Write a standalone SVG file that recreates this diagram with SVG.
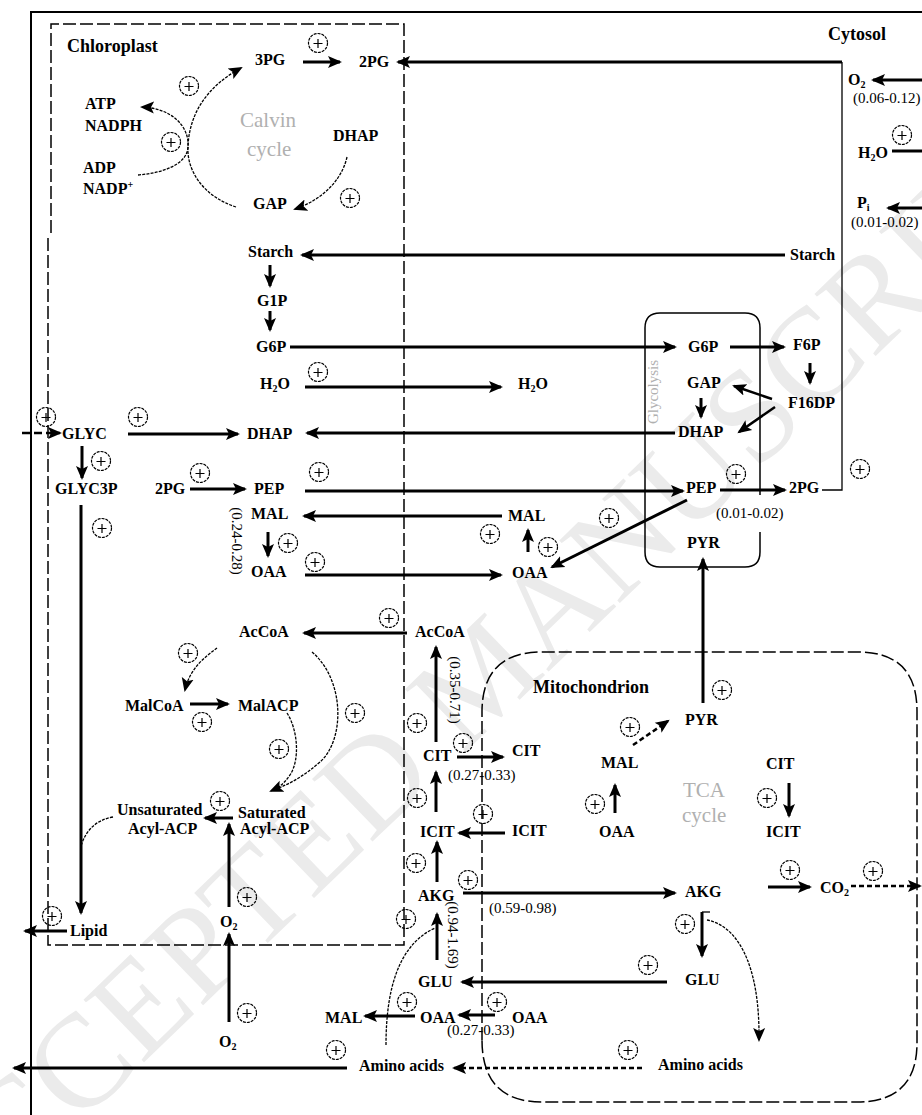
<svg xmlns="http://www.w3.org/2000/svg" xmlns:xlink="http://www.w3.org/1999/xlink" width="922" height="1115" viewBox="0 0 922 1115">
<defs>
<style>
text{font-family:"Liberation Serif","Times New Roman",serif;}
.t{font-weight:bold;font-size:16px;fill:#000}
.ttl{font-weight:bold;font-size:18px;fill:#000}
.n{font-size:15px;fill:#000}
.g{font-size:21px;fill:#b0b0b0}
.gs{font-size:15px;fill:#b0b0b0}
.wm{font-size:133px;fill:#ebebeb}
.k{stroke:#000;stroke-width:3;fill:none}
.k2{stroke:#000;stroke-width:2.5;fill:none}
.f{stroke:#000;stroke-width:1.3;fill:none}
.d{stroke-dasharray:8 4}
.ds{stroke-dasharray:5 3}
.dt{stroke-dasharray:3 1.2}
.bd{stroke:#000;stroke-width:1.5;fill:none;stroke-dasharray:13 4}
.ah{marker-end:url(#a)}
</style>
<marker id="a" markerUnits="userSpaceOnUse" markerWidth="16" markerHeight="14" refX="12" refY="7" orient="auto"><path d="M0,1 L14,7 L0,13 L3,7 z" fill="#000"/></marker>
<g id="p"><circle r="9.5" fill="none" stroke="#000" stroke-width="1.2" stroke-dasharray="3 1"/><path d="M-4.5,0.5H4.5M0,-4V5" stroke="#000" stroke-width="1.2"/></g>
</defs>
<rect width="922" height="1115" fill="#fff"/>
<text class="wm" transform="translate(512,707) rotate(-44)" text-anchor="middle">ACCEPTED MANUSCRIPT</text>

<g id="compartments">
<path d="M31,1115 V12 H922" fill="none" stroke="#000" stroke-width="2"/>
<path class="bd" d="M51,233 V24 H404 V945 H48 V236"/>
<path fill="none" stroke="#000" stroke-width="1.5" d="M760,495 V328 Q760,313 745,313 H660 Q645,313 645,328 V552 Q645,567 660,567 H745 Q760,567 760,552 V532"/>
<path class="bd" d="M482,1040 V712 Q482,652 542,652 H858 Q917,652 917,711 V1043 Q917,1102 857,1102 H542 Q482,1102 482,1040"/>
<text class="ttl" x="67" y="52">Chloroplast</text>
<text class="ttl" x="828" y="40">Cytosol</text>
<text class="ttl" x="533" y="693">Mitochondrion</text>
<text class="g" x="240" y="127">Calvin</text>
<text class="g" x="247" y="156">cycle</text>
<text class="g" x="683" y="797">TCA</text>
<text class="g" x="682" y="822">cycle</text>
<text class="gs" transform="translate(653,392) rotate(-90)" text-anchor="middle" y="5">Glycolysis</text>
</g>

<g id="connectors">
<path class="f" d="M822,490 H842 V62"/>
<path class="k ah" d="M842,62 H398"/>
<path class="k ah" d="M922,80 H873"/>
<path class="k" d="M892,151 H922"/>
<path class="k ah" d="M922,208 H888"/>
<path class="k ah" d="M785,255 H302"/>
<path class="k ah" d="M303,62 H340"/>
<path class="f dt ah" d="M236,207 C205,197 186,172 188,145 C190,112 208,86 241,68"/>
<path class="f dt ah" d="M138,175 C162,173 186,165 188,148 C190,125 170,108 142,107"/>
<path class="f dt ah" d="M347,157 C342,180 322,200 295,209"/>
<path class="k ah" d="M270,265 V286"/>
<path class="k ah" d="M270,311 V330"/>
<path class="k ah" d="M290,347 H675"/>
<path class="k ah" d="M305,387 H501"/>
<path class="k2 d ah" d="M22,433 H60"/>
<path class="k ah" d="M128,434 H238"/>
<path class="k ah" d="M675,433 H307"/>
<path class="k ah" d="M82,446 V478"/>
<path class="k ah" d="M81,505 V913"/>
<path class="f dt" d="M113,817 C96,820 86,830 81,846"/>
<path class="k ah" d="M67,931 H25"/>
<path class="k ah" d="M190,489 H245"/>
<path class="k ah" d="M305,491 H683"/>
<path class="k ah" d="M502,516 H304"/>
<path class="k ah" d="M268,532 V556"/>
<path class="k ah" d="M305,575 H501"/>
<path class="k ah" d="M528,552 V530"/>
<path class="k ah" d="M687,500 L552,567"/>
<path class="k ah" d="M407,633 H304"/>
<path class="k ah" d="M436,742 V647"/>
<path class="k ah" d="M457,757 H503"/>
<path class="k ah" d="M436,812 V772"/>
<path class="k ah" d="M505,833 H459"/>
<path class="k ah" d="M437,882 V842"/>
<path class="k ah" d="M463,893 H675"/>
<path class="k ah" d="M437,960 V914"/>
<path class="k ah" d="M667,982 H462"/>
<path class="k ah" d="M415,1016 H365"/>
<path class="k ah" d="M495,1015 H459"/>
<path class="k ah" d="M347,1068 H14"/>
<path class="k2 ds ah" d="M642,1068 H454"/>
<path class="f dt" d="M386,1045 C386,990 398,945 435,928"/>
<path class="k ah" d="M229,907 V824"/>
<path class="k ah" d="M229,1022 V934"/>
<path class="k ah" d="M233,818 H205"/>
<path class="f dt ah" d="M217,648 C205,657 190,668 185,690"/>
<path class="k ah" d="M190,704 H228"/>
<path class="f dt ah" d="M287,713 C298,730 300,760 290,775 C283,785 278,788 271,791"/>
<path class="f dt" d="M312,652 C345,680 345,740 320,762 C305,775 292,783 274,790"/>
<path class="k ah" d="M730,347 H784"/>
<path class="k ah" d="M810,363 V383"/>
<path class="k2 ah" d="M772,399 L734,386"/>
<path class="k2 ah" d="M775,407 L739,432"/>
<path class="k ah" d="M701,398 V417"/>
<path class="k ah" d="M720,490 H785"/>
<path class="k ah" d="M703,703 V559"/>
<path class="k2 ds ah" d="M633,745 L668,721"/>
<path class="k ah" d="M615,813 V785"/>
<path class="k ah" d="M789,783 V816"/>
<path class="k ah" d="M768,887 H810"/>
<path class="k2 ds ah" d="M851,886 H920"/>
<path class="k ah" d="M702,912 V956"/>
<path class="f" d="M702,912 H710"/>
<path class="f dt ah" d="M707,920 C735,925 760,960 759,1040"/>
</g>

<g id="regulation">
<use href="#p" x="318" y="43"/><use href="#p" x="189" y="86"/><use href="#p" x="171" y="142"/><use href="#p" x="350" y="198"/>
<use href="#p" x="902" y="135"/><use href="#p" x="318" y="372"/><use href="#p" x="46" y="417"/><use href="#p" x="138" y="417"/>
<use href="#p" x="101" y="461"/><use href="#p" x="200" y="473"/><use href="#p" x="102" y="528"/><use href="#p" x="319" y="472"/>
<use href="#p" x="288" y="543"/><use href="#p" x="315" y="562"/><use href="#p" x="490" y="534"/><use href="#p" x="548" y="547"/>
<use href="#p" x="609" y="518"/><use href="#p" x="736" y="474"/><use href="#p" x="860" y="469"/><use href="#p" x="188" y="653"/>
<use href="#p" x="202" y="722"/><use href="#p" x="279" y="749"/><use href="#p" x="355" y="713"/><use href="#p" x="220" y="801"/>
<use href="#p" x="389" y="618"/><use href="#p" x="417" y="723"/><use href="#p" x="463" y="743"/><use href="#p" x="417" y="798"/>
<use href="#p" x="483" y="814"/><use href="#p" x="416" y="863"/><use href="#p" x="468" y="880"/><use href="#p" x="406" y="919"/>
<use href="#p" x="52" y="916"/><use href="#p" x="247" y="897"/><use href="#p" x="247" y="1013"/><use href="#p" x="407" y="1002"/>
<use href="#p" x="497" y="1002"/><use href="#p" x="336" y="1050"/><use href="#p" x="628" y="1050"/><use href="#p" x="648" y="965"/>
<use href="#p" x="685" y="924"/><use href="#p" x="790" y="870"/><use href="#p" x="873" y="871"/><use href="#p" x="722" y="690"/>
<use href="#p" x="630" y="727"/><use href="#p" x="595" y="804"/><use href="#p" x="767" y="798"/>
</g>

<g id="chl-3pg"><text class="t" x="255" y="65">3PG</text></g>
<g id="chl-2pg"><text class="t" x="359" y="67">2PG</text></g>
<g id="chl-atp"><text class="t" x="85" y="109">ATP</text><text class="t" x="85" y="131">NADPH</text></g>
<g id="chl-adp"><text class="t" x="83" y="173">ADP</text><text class="t" x="83" y="194">NADP<tspan font-size="10" dy="-6">+</tspan></text></g>
<g id="chl-dhap1"><text class="t" x="333" y="141">DHAP</text></g>
<g id="chl-gap"><text class="t" x="253" y="209">GAP</text></g>
<g id="chl-starch"><text class="t" x="248" y="257">Starch</text></g>
<g id="chl-g1p"><text class="t" x="257" y="306">G1P</text></g>
<g id="chl-g6p"><text class="t" x="256" y="352">G6P</text></g>
<g id="chl-h2o"><text class="t" x="260" y="389">H<tspan font-size="10" dy="3">2</tspan><tspan dy="-3">O</tspan></text></g>
<g id="cyt-h2o"><text class="t" x="518" y="389">H<tspan font-size="10" dy="3">2</tspan><tspan dy="-3">O</tspan></text></g>
<g id="chl-glyc"><text class="t" x="62" y="439">GLYC</text></g>
<g id="chl-dhap2"><text class="t" x="247" y="439">DHAP</text></g>
<g id="chl-glyc3p"><text class="t" x="55" y="494">GLYC3P</text></g>
<g id="chl-2pg2"><text class="t" x="155" y="494">2PG</text></g>
<g id="chl-pep"><text class="t" x="254" y="494">PEP</text></g>
<g id="chl-mal"><text class="t" x="251" y="519">MAL</text></g>
<g id="chl-oaa"><text class="t" x="251" y="577">OAA</text></g>
<g id="lbl-mal-oaa"><text class="n" transform="translate(237,541) rotate(90)" text-anchor="middle" y="5">(0.24-0.28)</text></g>
<g id="cyt-mal"><text class="t" x="508" y="521">MAL</text></g>
<g id="cyt-oaa"><text class="t" x="512" y="578">OAA</text></g>
<g id="chl-accoa"><text class="t" x="239" y="637">AcCoA</text></g>
<g id="cyt-accoa"><text class="t" x="415" y="637">AcCoA</text></g>
<g id="chl-malcoa"><text class="t" x="125" y="711">MalCoA</text></g>
<g id="chl-malacp"><text class="t" x="238" y="711">MalACP</text></g>
<g id="chl-unsat"><text class="t" x="117" y="815">Unsaturated</text><text class="t" x="128" y="834">Acyl-ACP</text></g>
<g id="chl-sat"><text class="t" x="238" y="818">Saturated</text><text class="t" x="240" y="834">Acyl-ACP</text></g>
<g id="chl-lipid"><text class="t" x="70" y="936">Lipid</text></g>
<g id="chl-o2"><text class="t" x="220" y="927">O<tspan font-size="10" dy="3">2</tspan></text></g>
<g id="cyt-o2"><text class="t" x="219" y="1047">O<tspan font-size="10" dy="3">2</tspan></text></g>
<g id="cyt-cit"><text class="t" x="423" y="761">CIT</text></g>
<g id="lbl-accoa"><text class="n" transform="translate(455,690) rotate(90)" text-anchor="middle" y="5">(0.35-0.71)</text></g>
<g id="mit-cit-edge"><text class="t" x="512" y="756">CIT</text></g>
<g id="lbl-cit"><text class="n" x="448" y="780">(0.27-0.33)</text></g>
<g id="cyt-icit"><text class="t" x="420" y="837">ICIT</text></g>
<g id="mit-icit-edge"><text class="t" x="512" y="836">ICIT</text></g>
<g id="cyt-akg"><text class="t" x="418" y="901">AKG</text></g>
<g id="lbl-akg"><text class="n" x="489" y="913">(0.59-0.98)</text></g>
<g id="lbl-glu"><text class="n" transform="translate(453,935) rotate(90)" text-anchor="middle" y="5">(0.94-1.69)</text></g>
<g id="cyt-glu"><text class="t" x="418" y="987">GLU</text></g>
<g id="cyt-mal2"><text class="t" x="325" y="1023">MAL</text></g>
<g id="cyt-oaa2"><text class="t" x="420" y="1023">OAA</text></g>
<g id="mit-oaa-edge"><text class="t" x="512" y="1023">OAA</text></g>
<g id="lbl-oaa"><text class="n" x="447" y="1035">(0.27-0.33)</text></g>
<g id="cyt-amino"><text class="t" x="359" y="1071">Amino acids</text></g>
<g id="mit-amino"><text class="t" x="658" y="1070">Amino acids</text></g>
<g id="gly-g6p"><text class="t" x="688" y="352">G6P</text></g>
<g id="gly-f6p"><text class="t" x="793" y="350">F6P</text></g>
<g id="gly-f16dp"><text class="t" x="788" y="408">F16DP</text></g>
<g id="gly-gap"><text class="t" x="687" y="388">GAP</text></g>
<g id="gly-dhap"><text class="t" x="678" y="437">DHAP</text></g>
<g id="gly-pep"><text class="t" x="686" y="493">PEP</text></g>
<g id="gly-2pg"><text class="t" x="789" y="493">2PG</text></g>
<g id="lbl-2pg"><text class="n" x="716" y="518">(0.01-0.02)</text></g>
<g id="gly-pyr"><text class="t" x="687" y="548">PYR</text></g>
<g id="mit-pyr"><text class="t" x="685" y="725">PYR</text></g>
<g id="mit-mal"><text class="t" x="601" y="768">MAL</text></g>
<g id="mit-oaa"><text class="t" x="599" y="837">OAA</text></g>
<g id="mit-cit"><text class="t" x="766" y="769">CIT</text></g>
<g id="mit-icit"><text class="t" x="766" y="837">ICIT</text></g>
<g id="mit-akg"><text class="t" x="685" y="897">AKG</text></g>
<g id="mit-co2"><text class="t" x="820" y="893">CO<tspan font-size="10" dy="3">2</tspan></text></g>
<g id="mit-glu"><text class="t" x="685" y="985">GLU</text></g>
<g id="cyt-o2-out"><text class="t" x="848" y="85">O<tspan font-size="10" dy="3">2</tspan></text><text class="n" x="853" y="103">(0.06-0.12)</text></g>
<g id="cyt-h2o-out"><text class="t" x="858" y="158">H<tspan font-size="10" dy="3">2</tspan><tspan dy="-3">O</tspan></text></g>
<g id="cyt-pi"><text class="t" x="857" y="208">P<tspan font-size="10" dy="3">i</tspan></text><text class="n" x="851" y="227">(0.01-0.02)</text></g>
<g id="cyt-starch"><text class="t" x="790" y="260">Starch</text></g>
</svg>
